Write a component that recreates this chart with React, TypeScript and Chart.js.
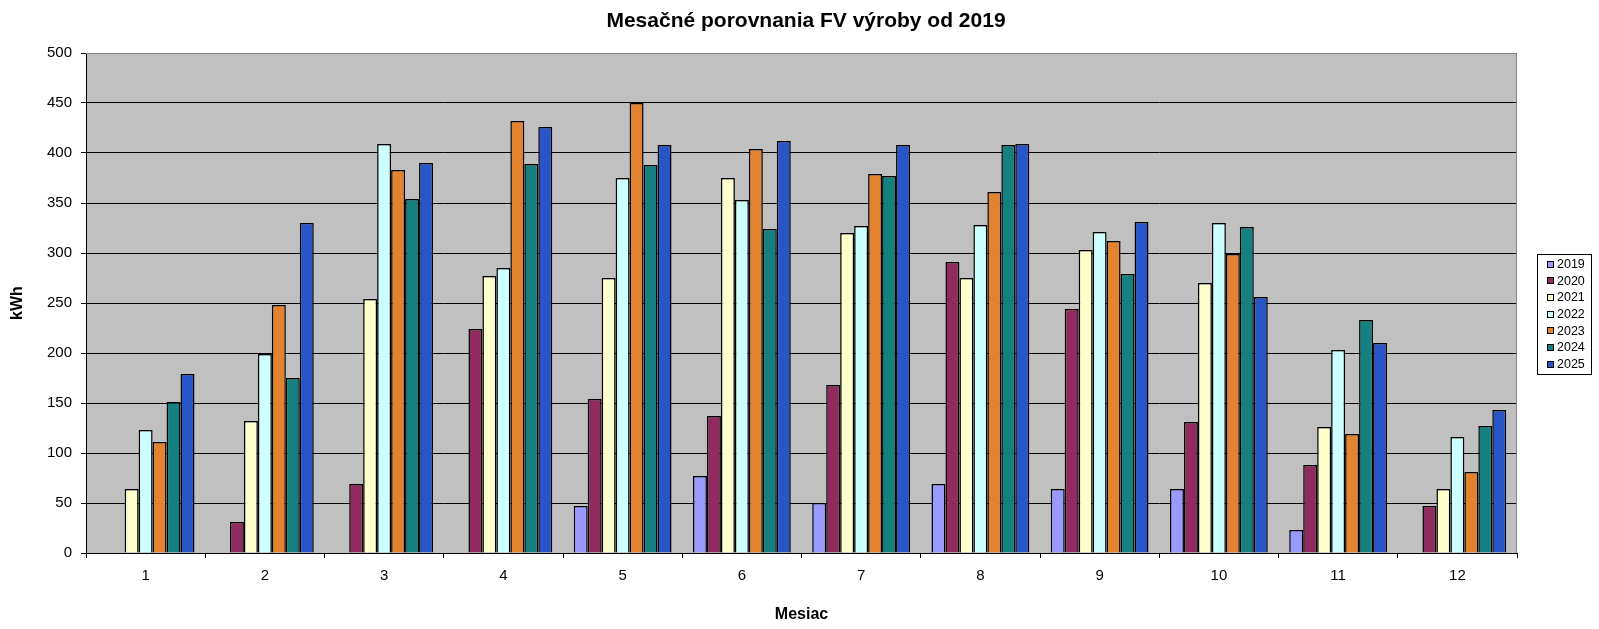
import React, { useEffect, useRef } from "react";
import { Chart, registerables } from "chart.js";

Chart.register(...registerables);

const months = ["1", "2", "3", "4", "5", "6", "7", "8", "9", "10", "11", "12"];
const years = ["2019", "2020", "2021", "2022", "2023", "2024", "2025"];
const colors = ["#9999FF", "#912A5E", "#FFFFCC", "#CCFFFF", "#E3822F", "#148080", "#2856C8"];
const chartTitle = "Mesačné porovnania FV výroby od 2019";

// kWh per month, null = no data
const y2019 = [null, null, null, null, 47, 77, 50, 69, 64, 64, 23, null];
const y2020 = [null, 31, 69, 224, 154, 137, 168, 291, 244, 131, 88, 47];
const y2021 = [64, 132, 254, 277, 275, 375, 320, 275, 303, 270, 126, 64];
const y2022 = [123, 199, 409, 285, 375, 353, 327, 328, 321, 330, 203, 116];
const y2023 = [111, 248, 383, 432, 450, 404, 379, 361, 312, 299, 119, 81];
const y2024 = [151, 175, 354, 389, 388, 324, 377, 408, 279, 326, 233, 127];
const y2025 = [179, 330, 390, 426, 408, 412, 408, 409, 331, 256, 210, 143];
const series = [y2019, y2020, y2021, y2022, y2023, y2024, y2025];

const FONT = "'Liberation Sans', Arial, sans-serif";

const plotFrame = {
  id: "plotFrame",
  beforeDraw(c: Chart) {
    const { ctx, chartArea: a } = c;
    ctx.save();
    ctx.fillStyle = "#C0C0C0";
    ctx.fillRect(a.left, a.top, a.right - a.left, a.bottom - a.top);
    ctx.restore();
  },
  afterDraw(c: Chart) {
    const { ctx, chartArea: a } = c;
    ctx.save();
    // grey frame on top / right of the plot
    ctx.strokeStyle = "#808080";
    ctx.lineWidth = 1;
    ctx.beginPath();
    ctx.moveTo(a.left, a.top + 0.5);
    ctx.lineTo(a.right - 0.5, a.top + 0.5);
    ctx.lineTo(a.right - 0.5, a.bottom);
    ctx.stroke();

    // title (centred like the original, not over the chart box)
    ctx.fillStyle = "#000";
    ctx.font = `bold 21px ${FONT}`;
    ctx.textAlign = "center";
    ctx.textBaseline = "alphabetic";
    ctx.fillText(chartTitle, 806, 27);

    // legend box
    const bx = 1537, by = 254, bw = 54, bh = 120;
    ctx.fillStyle = "#fff";
    ctx.fillRect(bx, by, bw, bh);
    ctx.strokeStyle = "#000";
    ctx.strokeRect(bx + 0.5, by + 0.5, bw, bh);
    ctx.font = `12.5px ${FONT}`;
    ctx.textBaseline = "middle";
    ctx.textAlign = "left";
    c.data.datasets.forEach((ds, i) => {
      const cy = 263.5 + i * 16.7;
      ctx.fillStyle = ds.backgroundColor as string;
      ctx.fillRect(1547, Math.round(cy) - 3, 7, 7);
      ctx.strokeStyle = "#000";
      ctx.strokeRect(1547.5, Math.round(cy) - 2.5, 6, 6);
      ctx.fillStyle = "#000";
      ctx.fillText(ds.label as string, 1557, cy + 1);
    });
    ctx.restore();
  },
};

export default function App() {
  const canvas = useRef<HTMLCanvasElement>(null);

  useEffect(() => {
    document.body.style.margin = "0";
    Chart.defaults.font.family = FONT;
    Chart.defaults.color = "#000";
    const chart = new Chart(canvas.current!, {
      type: "bar",
      data: {
        labels: months,
        datasets: years.map((y, i) => ({
          label: y,
          data: series[i],
          backgroundColor: colors[i],
          borderColor: "#000",
          borderWidth: 1.5,
          categoryPercentage: 0.82,
          barPercentage: 1,
        })),
      },
      options: {
        animation: false,
        responsive: false,
        layout: { padding: { left: 0, right: 82, top: 53, bottom: 0 } },
        plugins: {
          legend: { display: false },
          tooltip: { enabled: false },
          title: { display: false },
        },
        scales: {
          x: {
            grid: {
              display: true,
              drawOnChartArea: false,
              drawTicks: true,
              tickLength: 5,
              color: "#000",
              offset: true,
            },
            border: { color: "#000", width: 1 },
            ticks: { font: { size: 15 }, padding: 9, color: "#000" },
            title: {
              display: true,
              text: "Mesiac",
              font: { size: 16, weight: "bold" },
              color: "#000",
              padding: { top: 0, bottom: 5 },
            },
            afterFit(s: any) {
              s.height = 76;
            },
          },
          y: {
            min: 0,
            max: 500,
            ticks: { stepSize: 50, font: { size: 15 }, padding: 9, color: "#000" },
            grid: {
              color: (ctx: any) => (ctx.tick && ctx.tick.value === 500 ? "#808080" : "#000"),
              tickColor: "#000",
              tickLength: 5,
              lineWidth: 1,
            },
            border: { color: "#000", width: 1 },
            title: {
              display: true,
              text: "kWh",
              font: { size: 16, weight: "bold" },
              color: "#000",
              padding: { top: 8, bottom: 0 },
            },
            afterFit(s: any) {
              s.width = 86;
            },
          },
        },
      },
      plugins: [plotFrame],
    });
    return () => chart.destroy();
  }, []);

  return (
    <div style={{ width: 1599, height: 629, background: "#fff" }}>
      <canvas ref={canvas} width={1599} height={629} style={{ display: "block" }} />
    </div>
  );
}
